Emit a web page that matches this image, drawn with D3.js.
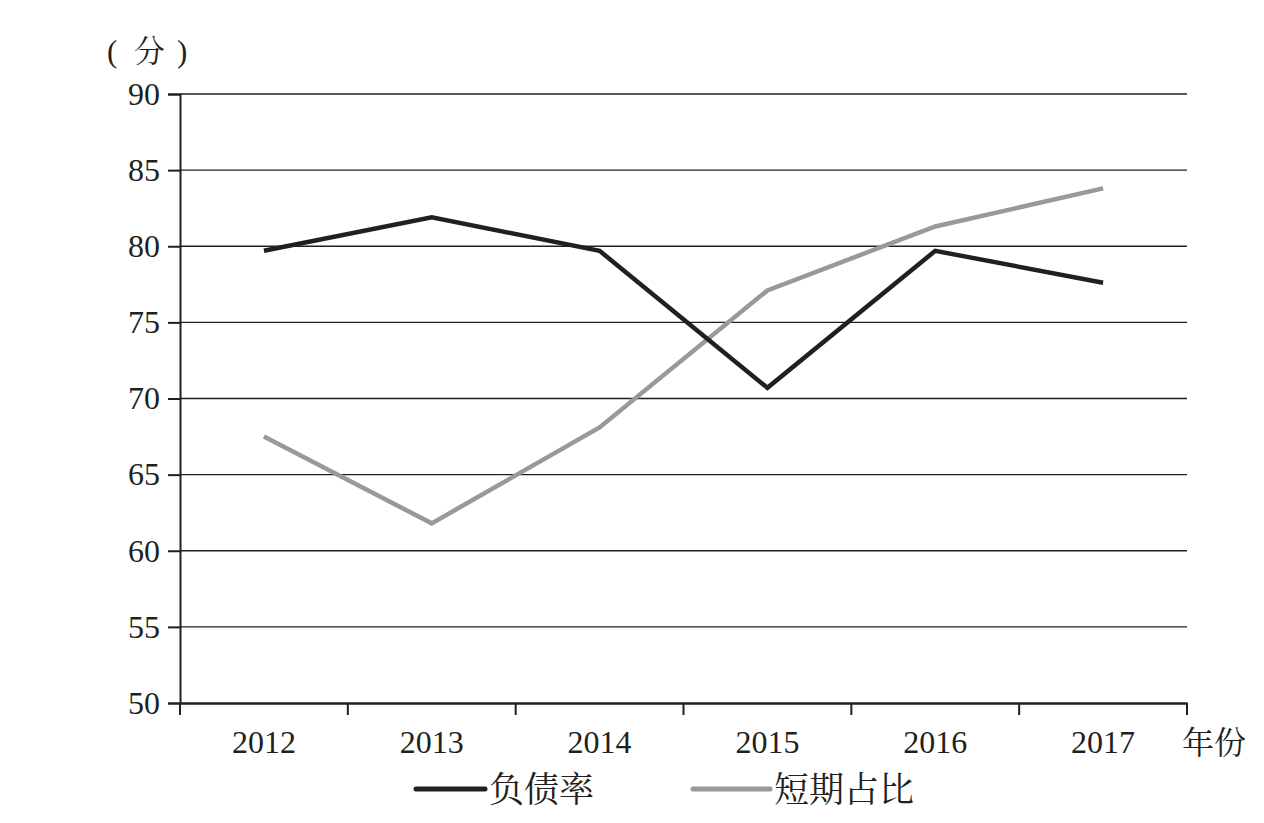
<!DOCTYPE html>
<html><head><meta charset="utf-8">
<script src="https://cdn.jsdelivr.net/npm/d3@7"></script>
<style>body{margin:0;background:#fff}svg{display:block}</style>
</head><body>
<svg id="c" width="1264" height="823"></svg>
<script>
const years = ["2012","2013","2014","2015","2016","2017"];
const debtRatio = [79.7, 81.9, 79.7, 70.7, 79.7, 77.6];
const shortShare = [67.5, 61.8, 68.1, 77.1, 81.3, 83.8];
const yTicks = [50,55,60,65,70,75,80,85,90];
const seriesNames = ["负债率","短期占比"];

(function () {
const svg = d3.select("#c");
const mLeft = 180, mRight = 1187, mTop = 94, mBottom = 703;
const ink = "#231f20";
const latin = "Liberation Serif";
const cjk = "Noto Serif CJK SC";

const x = d3.scaleBand().domain(years).range([mLeft, mRight]);
const y = d3.scaleLinear().domain([50, 90]).range([mBottom, mTop]);

// gridlines
svg.append("g").selectAll("line").data(yTicks.filter(d => d > 50)).join("line")
  .attr("x1", mLeft).attr("x2", mRight)
  .attr("y1", d => y(d)).attr("y2", d => y(d))
  .attr("stroke", ink).attr("stroke-width", 1.4);

// y axis
const ya = svg.append("g").attr("transform", `translate(${mLeft},0)`)
  .call(d3.axisLeft(y).tickValues(yTicks).tickSize(12).tickPadding(8));
ya.attr("font-family", latin);
ya.select(".domain").attr("stroke", ink).attr("stroke-width", 2);
ya.selectAll(".tick line").attr("stroke", ink).attr("stroke-width", 2);
ya.selectAll("text").attr("font-family", latin).attr("font-size", 32).attr("fill", ink);

// x axis
const xa = svg.append("g").attr("transform", `translate(0,${mBottom})`)
  .call(d3.axisBottom(x).tickSize(0).tickPadding(27));
xa.attr("font-family", latin);
xa.select(".domain").attr("stroke", ink).attr("stroke-width", 2.5);
xa.selectAll("text").attr("font-family", latin).attr("font-size", 32).attr("fill", ink).attr("dy", "0.71em");
const bounds = years.map(d => x(d)).concat([mRight]);
xa.selectAll(".bt").data(bounds).join("line").attr("class","bt")
  .attr("x1", d => d).attr("x2", d => d).attr("y1", 0).attr("y2", 12)
  .attr("stroke", ink).attr("stroke-width", 2);

// lines
const line = d3.line().x((d, i) => x(years[i]) + x.bandwidth() / 2).y(d => y(d));
svg.append("path").datum(shortShare).attr("d", line)
  .attr("fill", "none").attr("stroke", "#999999").attr("stroke-width", 4.5).attr("stroke-linejoin", "miter");
svg.append("path").datum(debtRatio).attr("d", line)
  .attr("fill", "none").attr("stroke", ink).attr("stroke-width", 4.5).attr("stroke-linejoin", "miter");

// axis titles
const unit = svg.append("text").attr("y", 62).attr("font-size", 31).attr("fill", ink);
unit.append("tspan").attr("x", 107).attr("font-family", latin).text("(");
unit.append("tspan").attr("x", 134).attr("font-family", cjk).text("分");
unit.append("tspan").attr("x", 177).attr("font-family", latin).text(")");
svg.append("text").attr("x", 1182).attr("y", 754).attr("font-family", cjk).attr("font-size", 32)
  .attr("fill", ink).text("年份");

// legend
const legend = [
  {name: seriesNames[0], color: ink, x1: 416, x2: 485, tx: 489},
  {name: seriesNames[1], color: "#999999", x1: 693, x2: 770, tx: 774}
];
const lg = svg.append("g");
lg.selectAll("line").data(legend).join("line")
  .attr("x1", d => d.x1).attr("x2", d => d.x2).attr("y1", 789).attr("y2", 789)
  .attr("stroke", d => d.color).attr("stroke-width", 5).attr("stroke-linecap", "round");
lg.selectAll("text").data(legend).join("text")
  .attr("x", d => d.tx).attr("y", 802).attr("font-family", cjk).attr("font-size", 35)
  .attr("fill", ink).text(d => d.name);
})();
</script>
</body></html>
